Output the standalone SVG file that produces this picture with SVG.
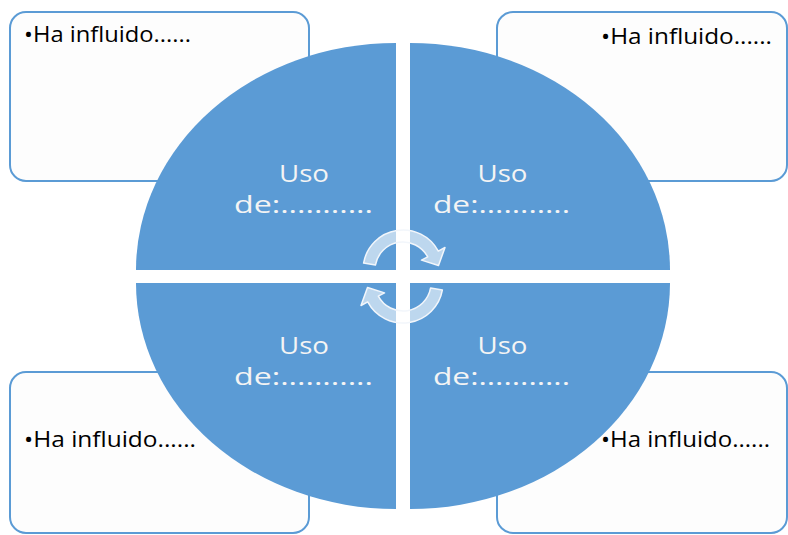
<svg xmlns="http://www.w3.org/2000/svg" width="788" height="535" viewBox="0 0 788 535">
  <style>
    .box { fill: #fdfdfd; stroke: #5b9bd5; stroke-width: 2; }
    .quad { fill: #5b9bd5; }
    .btxt { font-family: "Open Sans", "Liberation Sans", sans-serif; font-size: 21px; fill: #000000; }
    .qtxt { font-family: "Open Sans", "Liberation Sans", sans-serif; font-size: 24px; fill: #f4f4f4; text-anchor: middle; }
    .arrow { fill: #ffffff; fill-opacity: 0.6; stroke: #f2f6fb; stroke-width: 1.5; stroke-linejoin: round; }
  </style>
  <defs>
    <path id="carrow" d="M363.6,263.1 A40,40 0 0 1 438.3,251.2 L445,247.5 L438.5,265.5 L421.5,260.1 L427.7,256.9 A28,28 0 0 0 375.4,265.1 Z"/>
  </defs>
  <rect width="788" height="535" fill="#ffffff"/>

  <g id="box-tl">
    <rect class="box" x="10" y="12" width="299" height="169" rx="16"/>
    <text class="btxt" x="24" y="42" textLength="167" lengthAdjust="spacingAndGlyphs">•Ha influido......</text>
  </g>
  <g id="box-tr">
    <rect class="box" x="497" y="12" width="290" height="169" rx="16"/>
    <text class="btxt" x="601" y="44" textLength="171" lengthAdjust="spacingAndGlyphs">•Ha influido......</text>
  </g>
  <g id="box-bl">
    <rect class="box" x="10" y="372" width="299" height="161" rx="16"/>
    <text class="btxt" x="24" y="447" textLength="172" lengthAdjust="spacingAndGlyphs">•Ha influido......</text>
  </g>
  <g id="box-br">
    <rect class="box" x="497" y="372" width="290" height="161" rx="16"/>
    <text class="btxt" x="601" y="447" textLength="169" lengthAdjust="spacingAndGlyphs">•Ha influido......</text>
  </g>

  <g id="quad-tl">
    <path class="quad" d="M396,270 L136,270 A260,227 0 0 1 396,43 Z"/>
    <text class="qtxt" x="304" y="182" textLength="50" lengthAdjust="spacingAndGlyphs">Uso</text>
    <text class="qtxt" x="303.5" y="213" textLength="139" lengthAdjust="spacingAndGlyphs">de:...........</text>
  </g>
  <g id="quad-tr">
    <path class="quad" d="M410,270 L410,43 A260,227 0 0 1 670,270 Z"/>
    <text class="qtxt" x="502.5" y="182" textLength="50" lengthAdjust="spacingAndGlyphs">Uso</text>
    <text class="qtxt" x="501.5" y="213" textLength="137" lengthAdjust="spacingAndGlyphs">de:...........</text>
  </g>
  <g id="quad-bl">
    <path class="quad" d="M396,283 L396,509 A260,226 0 0 1 136,283 Z"/>
    <text class="qtxt" x="304" y="354" textLength="50" lengthAdjust="spacingAndGlyphs">Uso</text>
    <text class="qtxt" x="303.5" y="385" textLength="139" lengthAdjust="spacingAndGlyphs">de:...........</text>
  </g>
  <g id="quad-br">
    <path class="quad" d="M410,283 L670,283 A260,226 0 0 1 410,509 Z"/>
    <text class="qtxt" x="502.5" y="354" textLength="50" lengthAdjust="spacingAndGlyphs">Uso</text>
    <text class="qtxt" x="501.5" y="385" textLength="137" lengthAdjust="spacingAndGlyphs">de:...........</text>
  </g>

  <g id="connectors">
    <use href="#carrow" class="arrow"/>
    <use href="#carrow" class="arrow" transform="rotate(180 403 276.5)"/>
  </g>
</svg>
